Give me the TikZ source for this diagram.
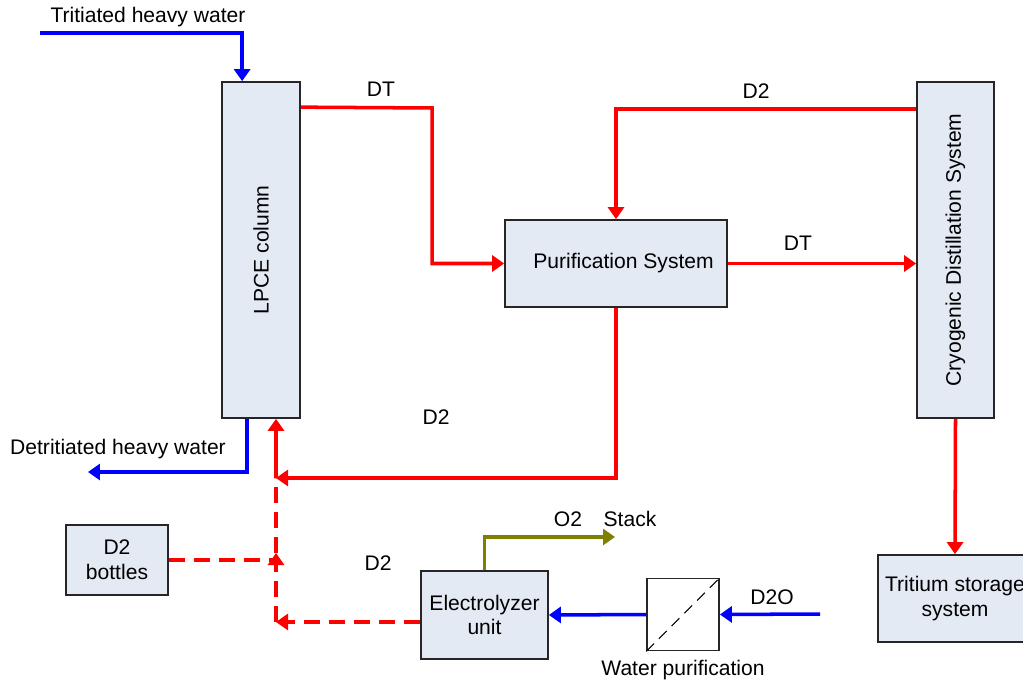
\documentclass[tikz,border=0pt]{standalone}
\usepackage{fontspec}
\setmainfont{Liberation Sans}
\usepackage{graphicx}
\usetikzlibrary{arrows.meta,positioning}
\definecolor{boxfill}{HTML}{E4EAF4}
\definecolor{o2olive}{HTML}{808000}

\begin{document}
\begin{tikzpicture}[
  x=0.02cm, y=-0.02cm,
  every node/.style={font=\fontsize{12}{14}\selectfont},
  box/.style={rectangle, draw=black!85, line width=1pt, fill=boxfill, align=center, inner sep=0pt},
  arr/.style={-{Triangle[length=2.4mm, width=3.2mm]}, line width=2pt},
  redarr/.style={arr, red},
  bluearr/.style={arr, blue},
  redline/.style={red, line width=2.2pt},
  dashline/.style={redline, dash pattern=on 0.32cm off 0.18cm},
]
\useasboundingbox (0,0) rectangle (1023,682);

\node[box, minimum width=1.56cm, minimum height=6.72cm] (lpce) at (261,250) {\rotatebox{90}{LPCE column}};
\node[box, minimum width=4.44cm, minimum height=1.74cm] (purif) at (616,263.5) {\hspace*{0.3cm}Purification System};
\node[box, minimum width=1.54cm, minimum height=6.72cm] (cryo) at (955.5,250) {\rotatebox{90}{Cryogenic Distillation System}};
\node[box, minimum width=3.08cm, minimum height=1.74cm] (tss) at (955,598.5) {Tritium storage\\system};
\node[box, minimum width=2.04cm, minimum height=1.4cm] (bottles) at (117,560) {D2\\bottles};
\node[box, minimum width=2.54cm, minimum height=1.76cm] (elec) at (484.5,615) {Electrolyzer\\unit};
\node[rectangle, draw=black!85, line width=1pt, fill=white, minimum size=1.44cm] (wpur) at (683,614.5) {};
\node[below=0.05cm of wpur] (wpurlbl) {Water purification};

\coordinate (thw) at (40,33);
\coordinate (dhw) at (88,472);
\coordinate (dtturn) at (432,108);
\coordinate (jct) at (276,478);
\coordinate (stack) at (615,537);
\coordinate (d2oin) at (820,614);
\coordinate (bjct) at (bottles.east -| jct);

\draw[bluearr] (thw) -| ([xshift=0.42cm]lpce.north west);
\draw[bluearr] ([xshift=0.52cm]lpce.south west) |- (dhw);
\draw[redarr] ([yshift=-0.52cm]lpce.north east) -- (dtturn) |- (purif.west);
\draw[redarr] ([yshift=-0.56cm]cryo.north west) -| (purif.north);
\draw[redarr] (purif.east) -- (purif.east -| cryo.west);
\draw[redarr] (purif.south) |- (jct);
\draw[redarr] (jct) -- (jct |- lpce.south);
\draw[redarr] (cryo.south) -- (tss.north);
\draw[arr, o2olive] (elec.north) |- (stack);
\draw[bluearr] (d2oin) -- (wpur.east);
\draw[bluearr] (wpur.west) -- (elec.east);

% dashed D2 make-up lines
\draw[dashline] (bottles.east) -- (bjct);
\draw[dashline, arr] ([yshift=-0.14cm]elec.west) -- ([yshift=-0.14cm]elec.west -| jct) coordinate (ecorner);
\draw[dashline, arr] (ecorner) -- ([yshift=0.14cm]bjct);
\draw[dashline] ([yshift=0.14cm]bjct) -- (jct);
\draw[black, dash pattern=on 0.22cm off 0.14cm, line width=0.6pt] (wpur.south west) -- (wpur.north east);

\node (thwlbl) at (148,17) {Tritiated heavy water};
\node (dt1) at (381,89) {DT};
\node (d2top) at (756,91) {D2};
\node (dt2) at (798,243) {DT};
\node (d2mid) at (436,417) {D2};
\node (dhwlbl) at (118,449) {Detritiated heavy water};
\node (d2low) at (378,563) {D2};
\node (o2lbl) at (568,519) {O2};
\node (stacklbl) at (630,519) {Stack};
\node (d2olbl) at (772,597) {D2O};

\end{tikzpicture}
\end{document}
